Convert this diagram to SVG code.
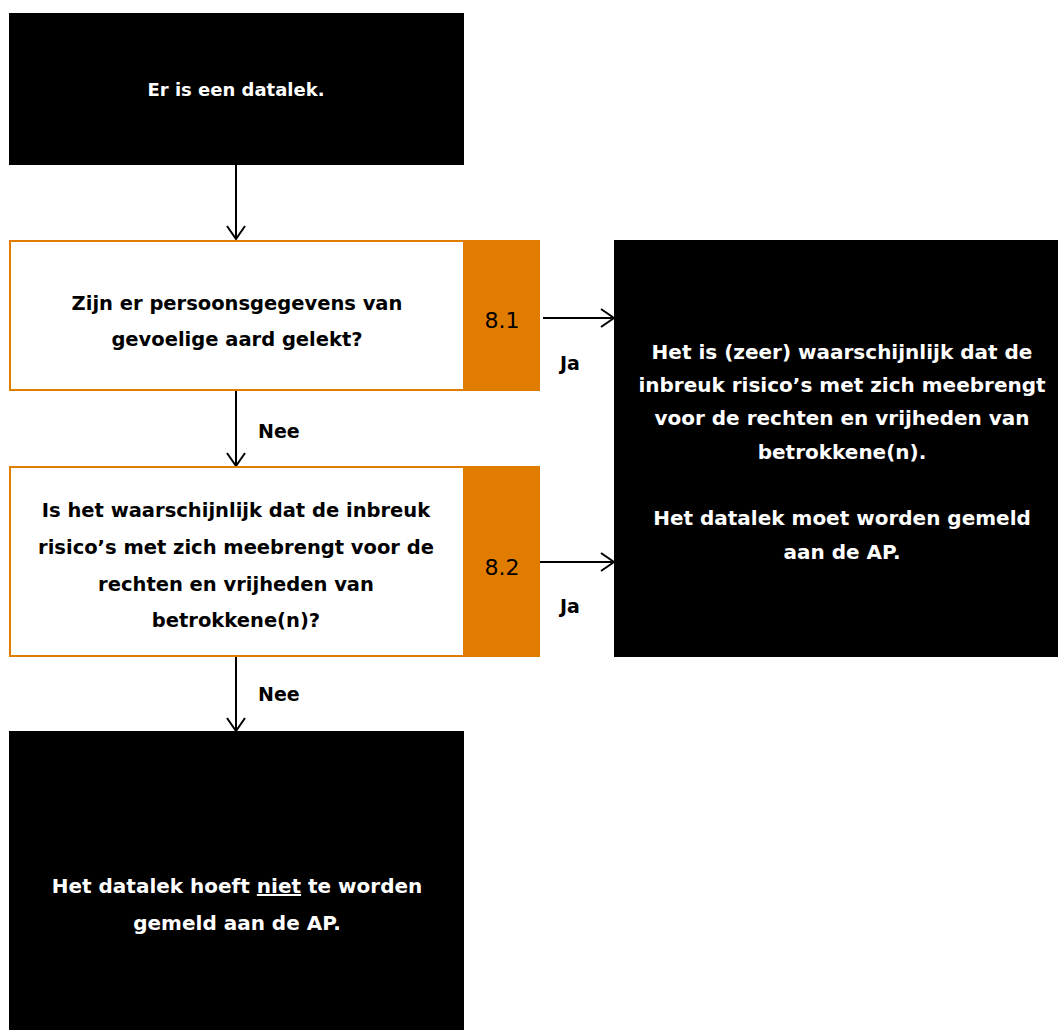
<svg xmlns="http://www.w3.org/2000/svg" width="1058" height="1030" viewBox="0 0 1058 1030">
<defs>
<style>
.dark{fill:#000;}
.q{fill:#fff;stroke:#E07C00;stroke-width:2;}
.tag{fill:#E07C00;}
.wt{fill:#fff;font-family:"DejaVu Sans",sans-serif;font-weight:bold;font-size:20px;text-anchor:middle;}
.bt{fill:#000;font-family:"DejaVu Sans",sans-serif;font-weight:bold;font-size:19.5px;text-anchor:middle;}
.num{fill:#000;font-family:"DejaVu Sans",sans-serif;font-size:22px;text-anchor:middle;}
.lbl{fill:#000;font-family:"DejaVu Sans",sans-serif;font-weight:bold;font-size:19px;}
.ln{stroke:#000;stroke-width:2;fill:none;}
</style>
<marker id="ah" markerWidth="16" markerHeight="20" refX="14" refY="10" orient="auto" markerUnits="userSpaceOnUse">
<path d="M1,1 L14,10 L1,19" fill="none" stroke="#000" stroke-width="2"/>
</marker>
</defs>
<rect width="1058" height="1030" fill="#fff"/>
<g id="connectors">
<line class="ln" x1="236" y1="165" x2="236" y2="239" marker-end="url(#ah)"/>
<line class="ln" x1="236" y1="391" x2="236" y2="466" marker-end="url(#ah)"/>
<line class="ln" x1="236" y1="657" x2="236" y2="731" marker-end="url(#ah)"/>
<line class="ln" x1="543" y1="318" x2="614" y2="318" marker-end="url(#ah)"/>
<line class="ln" x1="540" y1="562" x2="614" y2="562" marker-end="url(#ah)"/>
<text class="lbl" x="258" y="438">Nee</text>
<text class="lbl" x="258" y="701">Nee</text>
<text class="lbl" x="560" y="370">Ja</text>
<text class="lbl" x="560" y="613">Ja</text>
</g>
<g id="start">
<rect class="dark" x="9" y="13" width="455" height="152"/>
<text class="wt" x="236" y="96" style="font-size:18px">Er is een datalek.</text>
</g>
<g id="q81">
<rect class="q" x="10" y="241" width="529" height="149"/>
<rect class="tag" x="463" y="240" width="77" height="151"/>
<text class="bt" x="237" y="310">Zijn er persoonsgegevens van</text>
<text class="bt" x="237" y="346">gevoelige aard gelekt?</text>
<text class="num" x="502" y="328">8.1</text>
</g>
<g id="q82">
<rect class="q" x="10" y="467" width="529" height="189"/>
<rect class="tag" x="463" y="466" width="77" height="191"/>
<text class="bt" x="236" y="517">Is het waarschijnlijk dat de inbreuk</text>
<text class="bt" x="236" y="554">risico’s met zich meebrengt voor de</text>
<text class="bt" x="236" y="591">rechten en vrijheden van</text>
<text class="bt" x="236" y="627">betrokkene(n)?</text>
<text class="num" x="502" y="575">8.2</text>
</g>
<g id="melden">
<rect class="dark" x="614" y="240" width="444" height="417"/>
<text class="wt" x="842" y="359">Het is (zeer) waarschijnlijk dat de</text>
<text class="wt" x="842" y="392">inbreuk risico’s met zich meebrengt</text>
<text class="wt" x="842" y="425">voor de rechten en vrijheden van</text>
<text class="wt" x="842" y="459">betrokkene(n).</text>
<text class="wt" x="842" y="525">Het datalek moet worden gemeld</text>
<text class="wt" x="842" y="559">aan de AP.</text>
</g>
<g id="niet-melden">
<rect class="dark" x="9" y="731" width="455" height="299"/>
<text class="wt" x="237" y="893">Het datalek hoeft <tspan text-decoration="underline">niet</tspan> te worden</text>
<text class="wt" x="237" y="930">gemeld aan de AP.</text>
</g>
</svg>
